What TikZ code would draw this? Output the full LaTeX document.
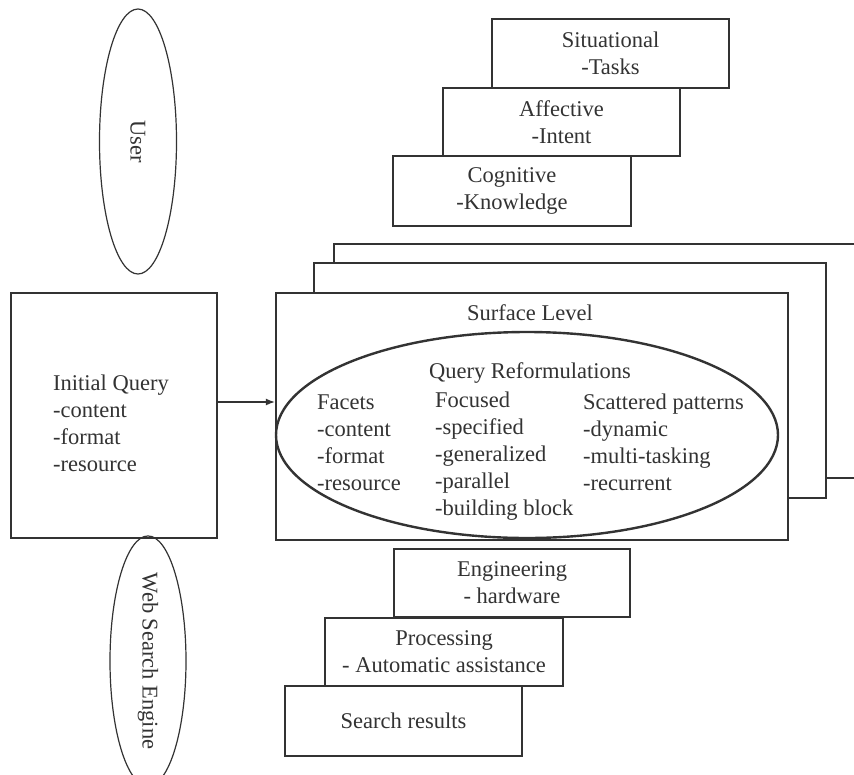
\documentclass[tikz,border=0pt]{standalone}
\usepackage{fontspec}
\setmainfont{Liberation Serif}
\newfontfamily\tnr{Liberation Serif}
\usetikzlibrary{shapes.geometric,arrows.meta}
\definecolor{ink}{HTML}{333333}
\begin{document}
\begin{tikzpicture}[x=1pt,y=-1pt,
  every node/.style={text=ink, font=\tnr\fontsize{22.5}{27}\selectfont},
  heavybox/.style={draw=ink, line width=2.4pt, fill=white, rectangle, inner sep=0pt, align=center},
  lightbox/.style={draw=ink, line width=1.2pt, fill=white},
  oval/.style={draw=ink, line width=1.2pt, ellipse, inner sep=0pt},
  col/.style={anchor=west, align=left, inner sep=0pt},
  arr/.style={draw=ink, line width=1.2pt, -{Latex[length=9pt,width=7pt]}}
]
\useasboundingbox[fill=white] (0,0) rectangle (854,774);

% stacked back frames
\begin{scope}
  \clip (0,0) rectangle (854,774);
  \draw[lightbox] (334,244) rectangle (900,478);
\end{scope}
\draw[lightbox] (314,263) rectangle (826,498);

% surface level
\node[heavybox, minimum width=512, minimum height=247] (surf) at (532,416.5) {};
\node (sl) at (530,313) {Surface Level};
\node[oval, line width=2.4pt, minimum width=502, minimum height=206] (qr) at (527,435) {};
\node (qrt) at (530,373) {Query Reformulations};
\node[col] (facets) at (317,442.5) {Facets\\-content\\-format\\-resource};
\node[col] (focused) at (435,456) {Focused\\-specified\\-generalized\\-parallel\\-building block};
\node[col] (scat) at (583,442.5) {Scattered patterns\\-dynamic\\-multi-tasking\\-recurrent};

% initial query
\node[draw=ink, line width=1.2pt, rectangle, inner sep=0pt, minimum width=206, minimum height=245] (iq) at (114,415.5) {};
\node[col] (iqt) at (53,423.5) {Initial Query\\-content\\-format\\-resource};
\coordinate (ay) at (0,402);
\draw[arr] (iq.east |- ay) -- (surf.west |- ay);

% user side
\node[heavybox, minimum width=237, minimum height=69] (sit) at (610.5,53.5) {Situational\\-Tasks};
\node[heavybox, minimum width=237, minimum height=68] (aff) at (561.5,122) {Affective\\-Intent};
\node[heavybox, minimum width=238, minimum height=70] (cog) at (512,191) {Cognitive\\-Knowledge};

% engine side
\node[heavybox, minimum width=236, minimum height=68] (eng) at (512,583) {Engineering\\- hardware};
\node[heavybox, minimum width=238, minimum height=68] (proc) at (444,652) {Processing\\- Automatic assistance};
\node[heavybox, minimum width=237, minimum height=70] (sr) at (403.5,721) {Search results};

% ovals
\node[oval, minimum width=265, minimum height=77, rotate=-90] (user) at (138,141.5) {User};
\node[oval, minimum width=224, minimum height=76, rotate=-90] (wse) at (148,661) {Web Search Engine};
\end{tikzpicture}
\end{document}
